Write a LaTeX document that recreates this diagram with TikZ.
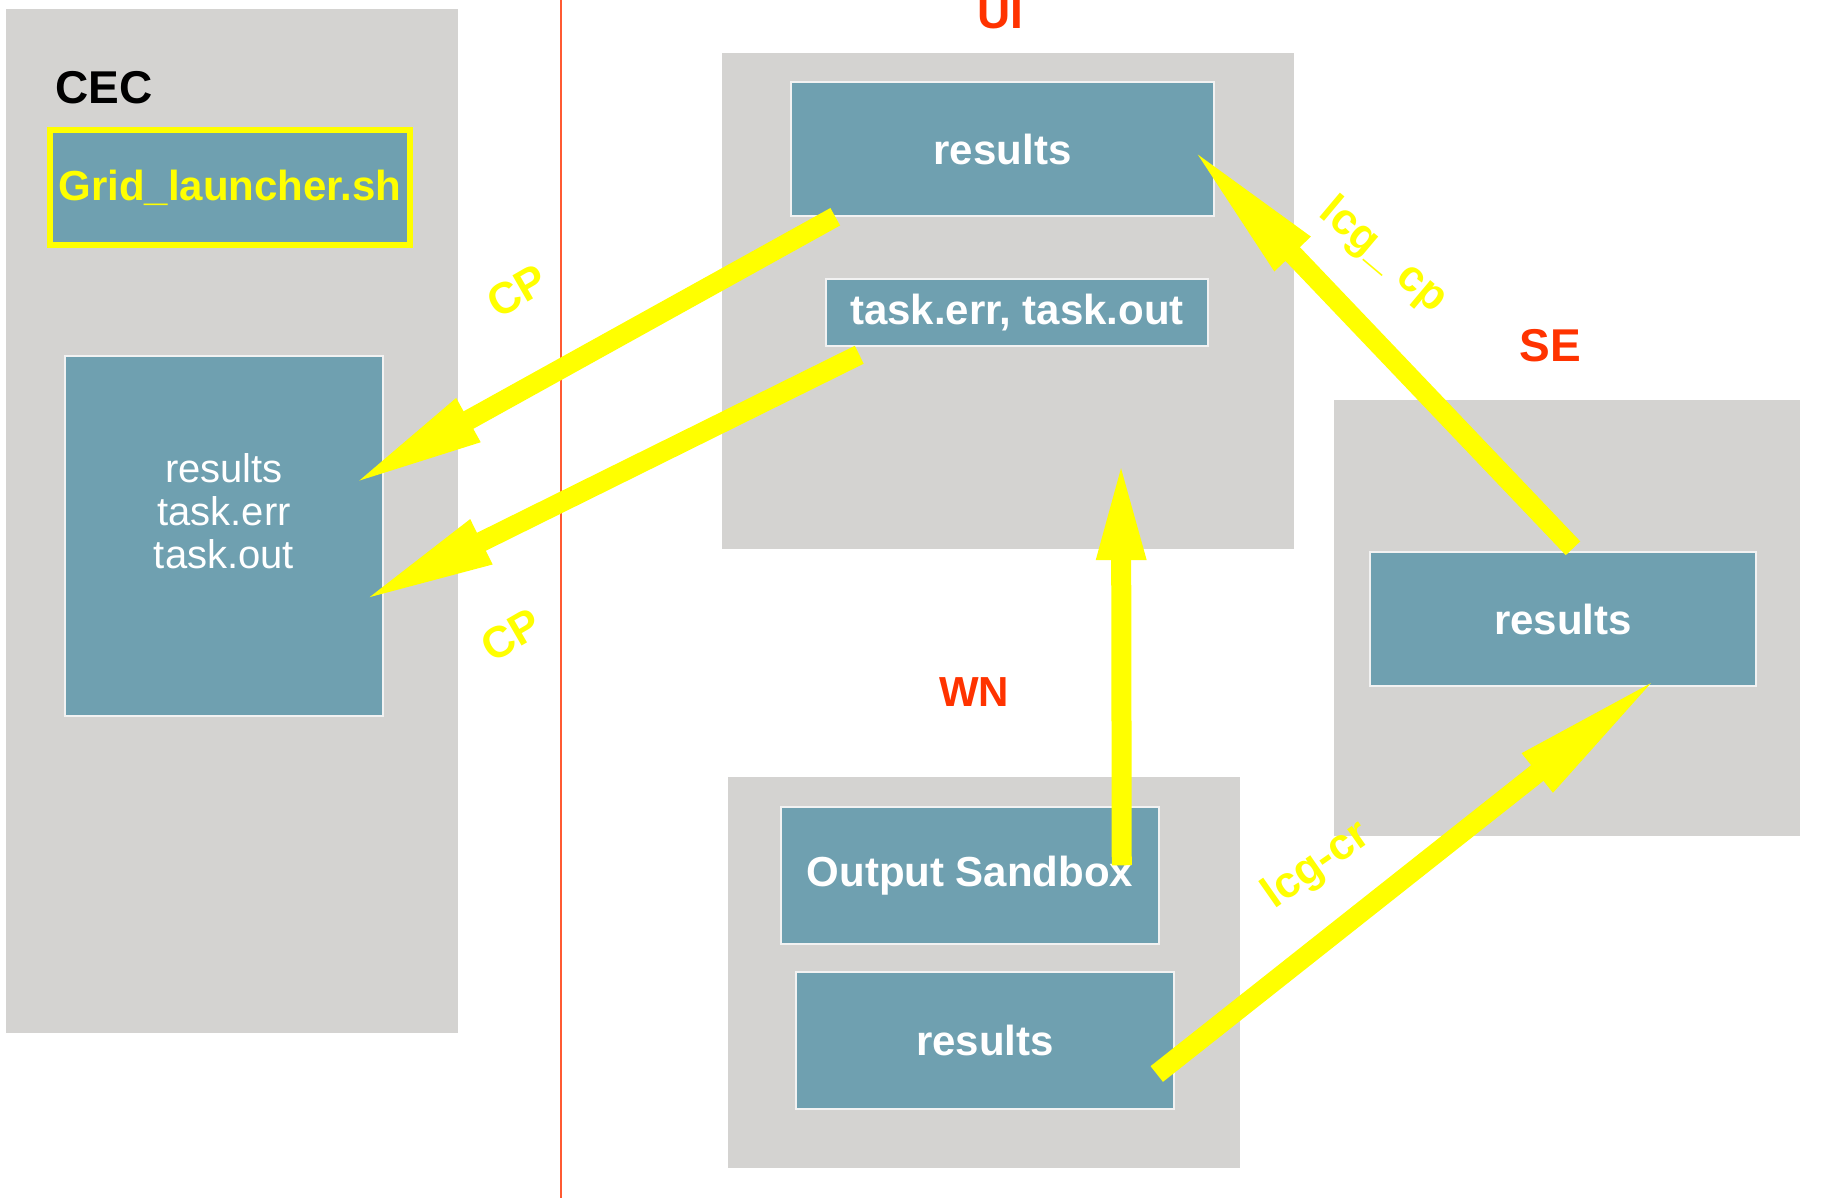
\documentclass[tikz,border=0pt]{standalone}
\usepackage{fontspec}
\setmainfont{Liberation Sans}
\usetikzlibrary{arrows.meta,calc,positioning}
\definecolor{panelgrey}{RGB}{212,211,209}
\definecolor{boxteal}{RGB}{111,160,176}
\definecolor{flowyellow}{RGB}{255,255,0}
\definecolor{sitered}{RGB}{255,51,0}
\definecolor{borderred}{RGB}{255,90,50}
\begin{document}
\begin{tikzpicture}[x=1pt,y=-1pt]
	\useasboundingbox (0,0) rectangle (1841,1198);

	\tikzstyle{panel}=[fill=panelgrey,inner sep=0pt]
	\tikzstyle{filebox}=[fill=boxteal,draw=white!90!gray,line width=1.5pt,inner sep=0pt,text=white,font=\fontsize{42}{48}\selectfont\bfseries]
	\tikzstyle{site}=[text=sitered,font=\fontsize{46}{52}\selectfont\bfseries,inner sep=0pt]
	\tikzstyle{cmd}=[text=flowyellow,font=\fontsize{44}{50}\selectfont\bfseries,inner sep=0pt]
	% Thick copy arrow, the head length is given per arrow.
	\tikzset{flow/.style={draw=flowyellow,line width=20pt,-{Triangle[length=#1,width=44pt]}}}

	% The CEC side, left of the border.
	\node (cecpanel) at (232,521) [panel, minimum width=452pt, minimum height=1024pt] {};
	\node (ceclabel) at (55,88) [anchor=west, inner sep=0pt, font=\fontsize{46}{52}\selectfont\bfseries] {CEC};
	\node (launcher) at (230,187.5) [filebox, draw=flowyellow, line width=6pt, text=flowyellow,
		minimum width=360pt, minimum height=115pt] {Grid\_launcher.sh};
	\node (cecres) at (224,536) [filebox, minimum width=318pt, minimum height=360pt] {};
	\node (cecrestext) at (224,511) [align=center, text=white, inner sep=0pt,
		font=\fontsize{40}{43}\selectfont] {results\\task.err\\task.out};

	% Border line between the two sides.
	\coordinate (bordertop) at (561,0);
	\coordinate (borderbot) at (561,1198);
	\draw [borderred, line width=2pt] (bordertop) -- (borderbot);

	% User interface.
	\node (uilabel) at (1000,29) [site, anchor=base] {UI};
	\node (uipanel) at (1008,301) [panel, minimum width=572pt, minimum height=496pt] {};
	\node (uires) at (1002.5,149) [filebox, minimum width=423pt, minimum height=134pt] {results};
	\node (uitask) at (1017,312.5) [filebox, minimum width=382pt, minimum height=67pt] {task.err, task.out};

	% Storage element.
	\node (selabel) at (1550,361) [site, anchor=base] {SE};
	\node (sepanel) at (1567,618) [panel, minimum width=466pt, minimum height=436pt] {};
	\node (seres) at (1563,619) [filebox, minimum width=386pt, minimum height=134pt] {results};

	% Worker node.
	\node (wnlabel) at (974,706) [site, anchor=base, font=\fontsize{42}{48}\selectfont\bfseries] {WN};
	\node (wnpanel) at (984,972.5) [panel, minimum width=512pt, minimum height=391pt] {};
	\node (outsb) at (970,875.5) [filebox, minimum width=378pt, minimum height=137pt] {Output Sandbox};
	\node (wnres) at (985,1040.5) [filebox, minimum width=378pt, minimum height=137pt] {results};

	% Copies.
	\draw [flow=138pt] ($(uires.south west)+(45,0)$) -- ($(cecres.east)+(-36,-49)$);
	\draw [flow=138pt] ($(uitask.south west)+(34,8)$) -- ($(cecres.east)+(-26,67)$);
	\draw [flow=102pt] ($(outsb.north east)+(-38,59)$) -- ($(uipanel.south)+(113,-91)$);
	\draw [flow=152pt] ($(seres.north)+(10,-3)$) -- ($(uires.east)+(-27,-5)$);
	\draw [flow=160pt] ($(wnres.east)+(-18,33.5)$) -- ($(seres.south east)+(-94,-13)$);

	\node (cpup) at (517,291) [cmd, rotate=30] {CP};
	\node (cplow) at (511,635) [cmd, rotate=30] {CP};
	\node (lcgcp) at (1383,256) [cmd, rotate=-40] {lcg\_ cp};
	\node (lcgcr) at (1317,866) [cmd, rotate=35] {lcg-cr};
\end{tikzpicture}
\end{document}
